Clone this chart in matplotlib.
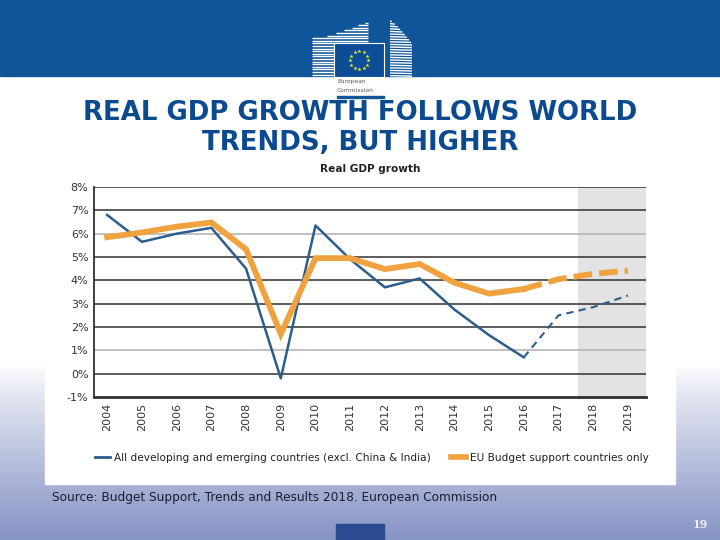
import numpy as np
import matplotlib
matplotlib.use("Agg")
import matplotlib.pyplot as plt
from matplotlib.patches import Rectangle
from matplotlib.lines import Line2D

# ---------------- data ----------------
years = [2004, 2005, 2006, 2007, 2008, 2009, 2010, 2011, 2012, 2013, 2014, 2015, 2016, 2017, 2018, 2019]
developing = [6.8, 5.65, 6.0, 6.25, 4.5, -0.2, 6.35, 4.9, 3.7, 4.08, 2.75, 1.65, 0.7, 2.5, 2.85, 3.35]
eu_budget = [5.85, 6.05, 6.3, 6.48, 5.33, 1.7, 4.95, 4.95, 4.48, 4.7, 3.9, 3.43, 3.63, 4.05, 4.28, 4.42]
forecast_from = 2016
yticks = [8, 7, 6, 5, 4, 3, 2, 1, 0, -1]
ytick_labels = ["8%", "7%", "6%", "5%", "4%", "3%", "2%", "1%", "0%", "-1%"]
light_grid = [6, 1]
legend_labels = ["All developing and emerging countries (excl. China & India)",
                 "EU Budget support countries only"]
slide_title = "REAL GDP GROWTH FOLLOWS WORLD\nTRENDS, BUT HIGHER"
chart_title = "Real GDP growth"
source = "Source: Budget Support, Trends and Results 2018. European Commission"
page = "19"

W, H = 720, 540
fig = plt.figure(figsize=(7.2, 5.4), dpi=100)

# ---------------- slide background (pixel coords) ----------------
bg = fig.add_axes([0, 0, 1, 1])
bg.set_xlim(0, W)
bg.set_ylim(H, 0)
bg.axis("off")

grad = np.ones((H, 1, 3))
top_c = np.array([1.0, 1.0, 1.0])
bot_c = np.array([0x86, 0x94, 0xc4]) / 255.0
for yy in range(H):
    t = 0.0 if yy < 365 else (yy - 365) / (H - 365)
    t = t ** 0.85
    grad[yy, 0] = top_c * (1 - t) + bot_c * t
bg.imshow(grad, extent=[0, W, H, 0], aspect="auto", zorder=0)

# header band
bg.add_patch(Rectangle((0, 0), W, 76, color="#10559a", zorder=1))

# EC logo: left building stripes (curved top rising to the right)
for yy in np.arange(22.5, 77, 2.6):
    frac = np.clip((38 - yy) / 16.0, 0, 1)
    xs = 312 + 54 * frac ** 0.7
    if yy > 38:
        xs = 312
    bg.plot([xs, 368], [yy, yy], color="white", lw=1.0, zorder=2, solid_capstyle="butt")
# right building stripes (top slanting down to the right)
for yy in np.arange(21, 76, 2.6):
    frac = np.clip((yy - 20) / 23.0, 0, 1)
    xe = 390 + 22 * frac ** 0.8
    bg.plot([390, max(xe, 391)], [yy, yy + 0.6], color="white", lw=1.0, zorder=2, solid_capstyle="butt")
# flag
bg.add_patch(Rectangle((334, 43), 50, 34, color="#0d4d98", ec="white", lw=0.8, zorder=3))
for k in range(12):
    a = 2 * np.pi * k / 12
    bg.plot(359 + 9 * np.cos(a), 60 + 9 * np.sin(a), marker="*", ms=3.2, color="#e8e830",
            mec="none", zorder=4)
bg.text(337, 82, "European", fontsize=4.3, color="#555555", va="center", zorder=4)
bg.text(337, 90, "Commission", fontsize=4.3, color="#555555", va="center", zorder=4)
bg.add_patch(Rectangle((337, 96), 47, 2.2, color="#10559a", zorder=4))

# slide title
bg.text(360, 127.5, slide_title, ha="center", va="center", fontsize=18.7, fontweight="bold",
        color="#0b4a8f", linespacing=1.2, family="DejaVu Sans", zorder=5)

# chart white box
bg.add_patch(Rectangle((45, 160), 630, 324, color="white", zorder=2))

# chart title
bg.text(370, 169, chart_title, ha="center", va="center", fontsize=7.6, fontweight="bold",
        color="#222222", zorder=5)

# source
bg.text(52, 498, source, ha="left", va="center", fontsize=8.7, color="#1a1f33", zorder=5)

# page number bits
bg.add_patch(Rectangle((336, 524), 48, 16, color="#2a4a92", zorder=3))
bg.text(700, 524, page, ha="center", va="center", fontsize=8, fontweight="bold",
        color="#eef0f8", family="DejaVu Serif", zorder=5)

# ---------------- chart axes ----------------
left, right, top, bottom = 94, 646, 187, 397
ax = fig.add_axes([left / W, (H - bottom) / H, (right - left) / W, (bottom - top) / H])
ax.set_facecolor("none")
ax.set_xlim(2003.62, 2019.52)
ax.set_ylim(-1, 8)

ax.axvspan(2017.55, 2019.52, color="#e3e3e3", zorder=0, lw=0)
for v in yticks:
    if v == -1:
        continue
    ax.axhline(v, color="#b0b0b0" if v in light_grid else "#303030", lw=1.1, zorder=1)

yrs = np.array(years)
dev = np.array(developing)
eu = np.array(eu_budget)
solid = yrs <= forecast_from
dash = yrs >= forecast_from

ax.plot(yrs[solid], dev[solid], color="#2c5d8c", lw=1.8, zorder=3)
ax.plot(yrs[dash], dev[dash], color="#2c5d8c", lw=1.5, ls=(0, (3.5, 2.5)), zorder=3)
ax.plot(yrs[solid], eu[solid], color="#f0a23e", lw=4.2, zorder=4, solid_joinstyle="miter")
ax.plot(yrs[dash], eu[dash], color="#f0a23e", lw=4.2, ls=(0, (3.2, 1.2)), zorder=4)

ax.set_yticks(yticks)
ax.set_yticklabels(ytick_labels, fontsize=8, color="#333333")
ax.set_xticks(years)
ax.set_xticklabels([str(y) for y in years], rotation=90, fontsize=8, color="#333333")
ax.tick_params(length=0, pad=4)
for s in ["top", "right"]:
    ax.spines[s].set_visible(False)
ax.spines["left"].set_color("#303030")
ax.spines["bottom"].set_color("#303030")
ax.spines["left"].set_linewidth(1.3)
ax.spines["bottom"].set_linewidth(2.0)

handles = [Line2D([], [], color="#2c5d8c", lw=2.0),
           Line2D([], [], color="#f0a23e", lw=4.0)]
fig.legend(handles, legend_labels, loc="center", bbox_to_anchor=(372 / W, (H - 458) / H),
           ncol=2, frameon=False, fontsize=7.55, handlelength=1.4, handletextpad=0.4,
           columnspacing=2.0, labelcolor="#222222")

fig.savefig("out.png", dpi=100)
